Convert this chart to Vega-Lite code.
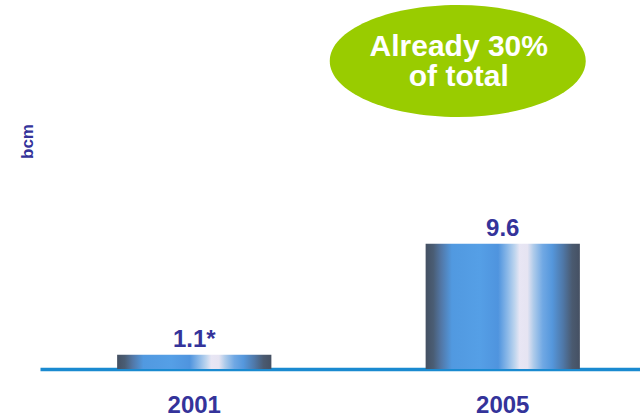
{
  "$schema": "https://vega.github.io/schema/vega-lite/v6.json",
  "autosize": "none",
  "padding": {"left": 40, "top": 9, "right": 0, "bottom": 47},
  "width": 617,
  "height": 360,
  "background": "white",
  "config": {
    "view": {"stroke": null},
    "font": "Liberation Sans",
    "text": {"font": "Liberation Sans"}
  },
  "datasets": {
    "bars": [
      {"year": "2001", "value": 1.1, "label": "1.1*"},
      {"year": "2005", "value": 9.6, "label": "9.6"}
    ],
    "bubble": [
      {"year": "2005", "value": 23.61}
    ],
    "bubbleText": [
      {"year": "2005", "value": 24.69, "text": "Already 30%"},
      {"year": "2005", "value": 22.39, "text": "of total"}
    ]
  },
  "encoding": {
    "x": {
      "field": "year",
      "type": "nominal",
      "scale": {"paddingInner": 0.5, "paddingOuter": 0.25},
      "axis": {
        "title": null,
        "labelAngle": 0,
        "ticks": false,
        "labelFont": "Liberation Sans",
        "labelFontSize": 24,
        "labelFontWeight": "bold",
        "labelColor": "#34339a",
        "labelPadding": 24,
        "domainColor": "#1a8ad0",
        "domainWidth": 3.5
      }
    },
    "y": {
      "field": "value",
      "type": "quantitative",
      "scale": {"domain": [0, 27.6], "nice": false},
      "axis": {
        "title": "bcm",
        "labels": false,
        "ticks": false,
        "domain": false,
        "grid": false,
        "titleFont": "Liberation Sans",
        "titleFontSize": 17,
        "titleFontWeight": "bold",
        "titleColor": "#34339a",
        "titleX": -13,
        "titleY": 132,
        "titleAlign": "center",
        "titleBaseline": "middle",
        "titleAngle": -90
      }
    }
  },
  "layer": [
    {
      "data": {"name": "bars"},
      "mark": {
        "type": "bar",
        "color": {
          "gradient": "linear",
          "x1": 0, "y1": 0, "x2": 1, "y2": 0,
          "stops": [
            {"offset": 0, "color": "#445062"},
            {"offset": 0.05, "color": "#4a5d74"},
            {"offset": 0.1, "color": "#5277a6"},
            {"offset": 0.17, "color": "#5199e0"},
            {"offset": 0.35, "color": "#559fe6"},
            {"offset": 0.47, "color": "#4f94de"},
            {"offset": 0.53, "color": "#8ab8e8"},
            {"offset": 0.58, "color": "#c0d6ee"},
            {"offset": 0.61, "color": "#e8e6f4"},
            {"offset": 0.66, "color": "#e6e4f2"},
            {"offset": 0.7, "color": "#aecbea"},
            {"offset": 0.76, "color": "#70a8e4"},
            {"offset": 0.82, "color": "#5597dc"},
            {"offset": 0.89, "color": "#4f78a8"},
            {"offset": 0.95, "color": "#4a5a70"},
            {"offset": 1, "color": "#455062"}
          ]
        }
      }
    },
    {
      "data": {"name": "bars"},
      "mark": {
        "type": "text",
        "baseline": "alphabetic",
        "dy": -8,
        "font": "Liberation Sans",
        "fontSize": 24,
        "fontWeight": "bold",
        "color": "#34339a"
      },
      "encoding": {"text": {"field": "label"}}
    },
    {
      "data": {"name": "bubble"},
      "mark": {
        "type": "point",
        "shape": "M1,0C1,0.2416 0.5523,0.4375 0,0.4375C-0.5523,0.4375 -1,0.2416 -1,0C-1,-0.2416 -0.5523,-0.4375 0,-0.4375C0.5523,-0.4375 1,-0.2416 1,0Z",
        "size": 65536,
        "filled": true,
        "opacity": 1,
        "color": "#99cc00",
        "strokeWidth": 0,
        "xOffset": -45
      }
    },
    {
      "data": {"name": "bubbleText"},
      "mark": {
        "type": "text",
        "baseline": "middle",
        "align": "center",
        "dx": -44,
        "font": "Liberation Sans",
        "fontSize": 30,
        "fontWeight": "bold",
        "color": "white"
      },
      "encoding": {"text": {"field": "text"}}
    }
  ]
}
